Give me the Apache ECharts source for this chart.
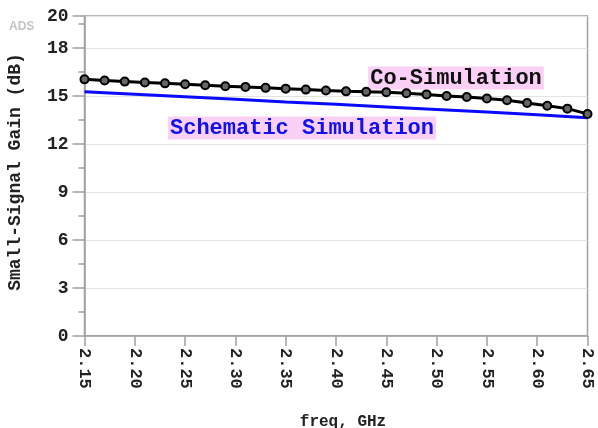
<!DOCTYPE html>
<html>
<head>
<meta charset="utf-8">
<script src="https://cdn.jsdelivr.net/npm/echarts@6/dist/echarts.min.js"></script>
<style>
  html, body { margin: 0; padding: 0; background: #fff; }
  #chart { width: 598px; height: 428px; }
</style>
</head>
<body>
<div id="chart"></div>
<script>
// Frequency sweep (GHz) for the co-simulation run, one point every 20 MHz
const coSimFreq = [2.15, 2.17, 2.19, 2.21, 2.23, 2.25, 2.27, 2.29, 2.31, 2.33,
                   2.35, 2.37, 2.39, 2.41, 2.43, 2.45, 2.47, 2.49, 2.51, 2.53,
                   2.55, 2.57, 2.59, 2.61, 2.63, 2.65];
// Small-signal gain (dB), co-simulation
const coSimGain = [16.04, 15.97, 15.90, 15.84, 15.79, 15.73, 15.67, 15.61, 15.57, 15.51,
                   15.46, 15.40, 15.34, 15.29, 15.26, 15.23, 15.17, 15.10, 15.00, 14.94,
                   14.84, 14.73, 14.56, 14.39, 14.21, 13.88];
// Schematic simulation sweep
const schemFreq = [2.15, 2.20, 2.25, 2.30, 2.35, 2.40, 2.45, 2.50, 2.55, 2.60, 2.65];
const schemGain = [15.27, 15.11, 14.95, 14.79, 14.63, 14.48, 14.32, 14.16, 14.00, 13.83, 13.64];

const freqRange = [2.15, 2.65];
const freqStep = 0.05;
const gainRange = [0, 20];
const gainStep = 3;

const mono = '"Liberation Mono", "DejaVu Sans Mono", monospace';
const axisGray = '#a0a0a0';

const chart = echarts.init(document.getElementById('chart'), null, { renderer: 'canvas' });

chart.setOption({
  animation: false,
  backgroundColor: '#fff',
  grid: {
    left: 84.5, right: 10.5, top: 16, bottom: 92,
    outerBoundsMode: 'none',
    containLabel: false,
    show: true, borderColor: axisGray, borderWidth: 1.5
  },
  xAxis: {
    type: 'value',
    min: freqRange[0], max: freqRange[1], interval: freqStep,
    name: 'freq, GHz',
    nameLocation: 'middle',
    nameGap: 78,
    nameTextStyle: { fontFamily: mono, fontWeight: 'bold', fontSize: 16, color: '#222', padding: [0, 0, 0, 14] },
    axisLine: { show: true, lineStyle: { color: axisGray, width: 1.5 } },
    axisTick: { show: true, length: 10, lineStyle: { color: axisGray, width: 1.5 } },
    splitLine: { show: false },
    axisLabel: {
      rotate: -90, margin: 12,
      fontFamily: mono, fontWeight: 'bold', fontSize: 17, color: '#222',
      formatter: v => v.toFixed(2)
    }
  },
  yAxis: [{
    type: 'value',
    min: gainRange[0], max: gainRange[1], interval: gainStep,
    name: 'Small-Signal Gain (dB)',
    nameLocation: 'middle',
    nameGap: 60,
    nameTextStyle: { fontFamily: mono, fontWeight: 'bold', fontSize: 18, color: '#222', padding: [0, 0, 0, 8] },
    axisLine: { show: true, lineStyle: { color: axisGray, width: 1.5 } },
    axisTick: { show: true, length: 12, lineStyle: { color: axisGray, width: 1.5 } },
    splitLine: { show: true, lineStyle: { color: '#e2e2e2', width: 1 } },
    axisLabel: {
      margin: 16,
      fontFamily: mono, fontWeight: 'bold', fontSize: 18, color: '#222'
    }
  }, {
    // half-step minor ticks on the gain axis
    type: 'value',
    position: 'left',
    min: gainRange[0], max: gainRange[1], interval: gainStep / 2,
    axisLine: { show: false },
    axisTick: { show: true, length: 6, lineStyle: { color: axisGray, width: 1.5 } },
    axisLabel: { show: false },
    splitLine: { show: false }
  }],
  graphic: [
    {
      type: 'text', left: 9, top: 21,
      style: {
        text: 'ADS', fill: '#c4c4c4',
        font: 'bold 12px "Liberation Sans", Arial, sans-serif'
      }
    },
    {
      type: 'text', x: 456, y: 78,
      style: {
        text: 'Co-Simulation', fill: '#111',
        font: 'bold 22px ' + mono,
        align: 'center', verticalAlign: 'middle',
        backgroundColor: '#fad0f6', padding: [0, 2, 1, 2]
      }
    },
    {
      type: 'text', x: 302, y: 128,
      style: {
        text: 'Schematic Simulation', fill: '#1010f0',
        font: 'bold 22px ' + mono,
        align: 'center', verticalAlign: 'middle',
        backgroundColor: '#fad0f6', padding: [0, 2, 1, 2]
      }
    }
  ],
  series: [
    {
      name: 'Schematic Simulation',
      type: 'line',
      data: schemFreq.map((f, i) => [f, schemGain[i]]),
      showSymbol: false,
      lineStyle: { color: '#0a0aff', width: 3 },
      z: 2
    },
    {
      name: 'Co-Simulation',
      type: 'line',
      data: coSimFreq.map((f, i) => [f, coSimGain[i]]),
      symbol: 'circle',
      symbolSize: 8,
      itemStyle: { color: '#666', borderColor: '#000', borderWidth: 2 },
      lineStyle: { color: '#000', width: 3 },
      z: 3
    }
  ]
});
</script>
</body>
</html>
